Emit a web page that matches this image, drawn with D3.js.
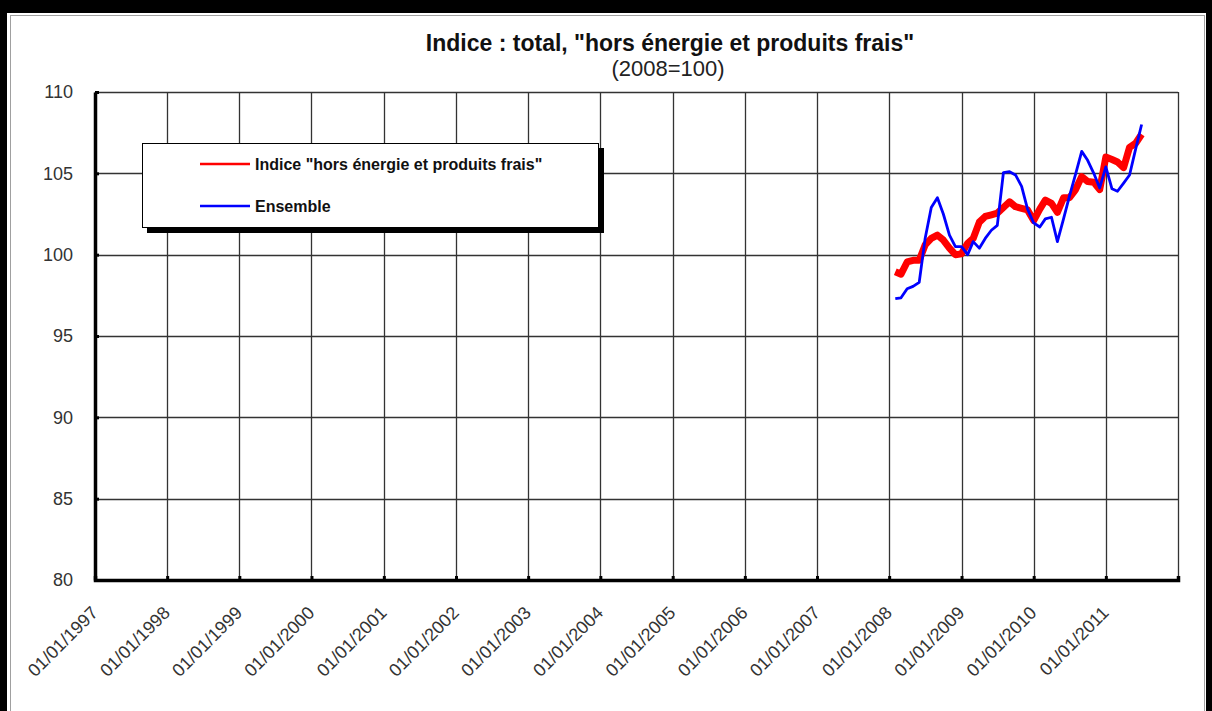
<!DOCTYPE html>
<html><head><meta charset="utf-8">
<script src="https://cdn.jsdelivr.net/npm/d3@7"></script>
<style>body{margin:0;background:#fff}svg{display:block}</style>
</head><body><svg id="c" width="1212" height="711"></svg>
<script>
const months = ["2008-02","2008-03","2008-04","2008-05","2008-06","2008-07","2008-08","2008-09","2008-10","2008-11","2008-12",
"2009-01","2009-02","2009-03","2009-04","2009-05","2009-06","2009-07","2009-08","2009-09","2009-10","2009-11","2009-12",
"2010-01","2010-02","2010-03","2010-04","2010-05","2010-06","2010-07","2010-08","2010-09","2010-10","2010-11","2010-12",
"2011-01","2011-02","2011-03","2011-04","2011-05","2011-06","2011-07"];
const horsEnergie = [98.95,98.8,99.55,99.65,99.65,100.6,101.0,101.2,100.9,100.4,100.0,
100.05,100.7,101.0,102.0,102.35,102.45,102.55,102.9,103.25,102.95,102.85,102.75,
102.1,102.8,103.35,103.15,102.6,103.5,103.5,104.0,104.8,104.5,104.45,104.0,
106.0,105.85,105.7,105.35,106.6,106.85,107.4];
const ensemble = [97.3,97.35,97.9,98.05,98.3,101.0,102.9,103.5,102.5,101.2,100.5,
100.5,100.0,100.8,100.4,101.0,101.5,101.8,105.05,105.1,104.9,104.2,102.8,
101.95,101.7,102.2,102.3,100.8,102.2,103.6,104.95,106.35,105.8,105.0,104.1,
105.4,104.05,103.9,104.4,104.9,106.5,108.0];
const yTicks = [80,85,90,95,100,105,110];
const gridYears = [1997,1998,1999,2000,2001,2002,2003,2004,2005,2006,2007,2008,2009,2010,2011,2012];
const xTickLabels = ["01/01/1997","01/01/1998","01/01/1999","01/01/2000","01/01/2001","01/01/2002","01/01/2003","01/01/2004","01/01/2005","01/01/2006","01/01/2007","01/01/2008","01/01/2009","01/01/2010","01/01/2011"];
const titleText = 'Indice : total, "hors énergie et produits frais"';
const subtitleText = "(2008=100)";
const seriesNames = ['Indice "hors énergie et produits frais"', "Ensemble"];
const seriesColors = ["#ff0000", "#0000ff"];

const svg = d3.select("#c");
const font = "Arial, 'Liberation Sans', sans-serif";
const parse = d3.timeParse("%Y-%m");
const dates = months.map(parse);

// frame
svg.append("rect").attr("x",0).attr("y",0).attr("width",1212).attr("height",711).attr("fill","#fff");
svg.append("rect").attr("x",10.5).attr("y",15.5).attr("width",1194).attr("height",700).attr("fill","none").attr("stroke","#a0a0a0").attr("stroke-width",1);
svg.append("rect").attr("x",0).attr("y",0).attr("width",1212).attr("height",13).attr("fill","#000");
svg.append("rect").attr("x",0).attr("y",0).attr("width",7).attr("height",711).attr("fill","#000");
svg.append("rect").attr("x",1206).attr("y",0).attr("width",6).attr("height",711).attr("fill","#000");

const x = d3.scaleTime().domain([new Date(1997,0,1), new Date(2012,0,1)]).range([95,1178]);
const y = d3.scaleLinear().domain([80,110]).range([580,92]);

// title
svg.append("text").attr("x",670).attr("y",51).attr("text-anchor","middle")
  .attr("font-family",font).attr("font-weight","bold").attr("font-size",23).attr("fill","#111").text(titleText);
svg.append("text").attr("x",668).attr("y",76).attr("text-anchor","middle")
  .attr("font-family",font).attr("font-size",22).attr("fill","#222").text(subtitleText);

// grid
const g = svg.append("g");
g.selectAll("line.h").data(yTicks).join("line")
  .attr("x1",x.range()[0]).attr("x2",x.range()[1])
  .attr("y1",d=>Math.round(y(d))+0.5).attr("y2",d=>Math.round(y(d))+0.5)
  .attr("stroke","#333").attr("stroke-width",1.3);
g.selectAll("line.v").data(gridYears).join("line")
  .attr("x1",d=>Math.round(x(new Date(d,0,1)))+0.5).attr("x2",d=>Math.round(x(new Date(d,0,1)))+0.5)
  .attr("y1",y(110)).attr("y2",y(80))
  .attr("stroke","#333").attr("stroke-width",1.3);

// axes
const yAxis = d3.axisLeft(y).tickValues(yTicks).tickSize(0).tickPadding(22).tickFormat(d3.format("d"));
const ya = svg.append("g").attr("transform","translate(95,0)").call(yAxis);
ya.select(".domain").attr("stroke","#000").attr("stroke-width",3.5);
ya.selectAll("text").attr("font-family",font).attr("font-size",18).attr("fill","#333");

const xAxis = d3.axisBottom(x).tickValues(gridYears.map(d=>new Date(d,0,1))).tickSize(-4).tickFormat("");
const xa = svg.append("g").attr("transform","translate(0,580)").call(xAxis);
xa.select(".domain").attr("stroke","#000").attr("stroke-width",3.5);
xa.selectAll(".tick line").attr("stroke","#000").attr("stroke-width",3);
ya.selectAll(".tick").append("line").attr("x1",0).attr("x2",4).attr("stroke","#000").attr("stroke-width",3);

svg.append("g").selectAll("text").data(xTickLabels).join("text")
  .attr("transform",(d,i)=>`translate(${x(new Date(gridYears[i],0,1))+4},614) rotate(-45)`)
  .attr("text-anchor","end").attr("font-family",font).attr("font-size",18).attr("fill","#333").text(d=>d);

// lines
const line = d3.line().x((d,i)=>x(dates[i])).y(d=>y(d));
svg.append("path").datum(horsEnergie).attr("d",line).attr("fill","none")
  .attr("stroke",seriesColors[0]).attr("stroke-width",7).attr("stroke-linejoin","round").attr("stroke-linecap","butt");
svg.append("path").datum(ensemble).attr("d",line).attr("fill","none")
  .attr("stroke",seriesColors[1]).attr("stroke-width",2.8).attr("stroke-linejoin","round");

// legend
const lg = svg.append("g");
lg.append("rect").attr("x",147).attr("y",148).attr("width",457).attr("height",85).attr("fill","#000");
lg.append("rect").attr("x",142.5).attr("y",143.5).attr("width",456).attr("height",84).attr("fill","#fff").attr("stroke","#000").attr("stroke-width",1);
const ly = [164,206];
seriesNames.forEach((n,i)=>{
  lg.append("line").attr("x1",200).attr("x2",250).attr("y1",ly[i]).attr("y2",ly[i]).attr("stroke",seriesColors[i]).attr("stroke-width",2.5);
  lg.append("text").attr("x",255).attr("y",ly[i]+5.5).attr("font-family",font).attr("font-weight","bold")
    .attr("font-size",16).attr("fill","#111").text(n);
});
</script></body></html>
